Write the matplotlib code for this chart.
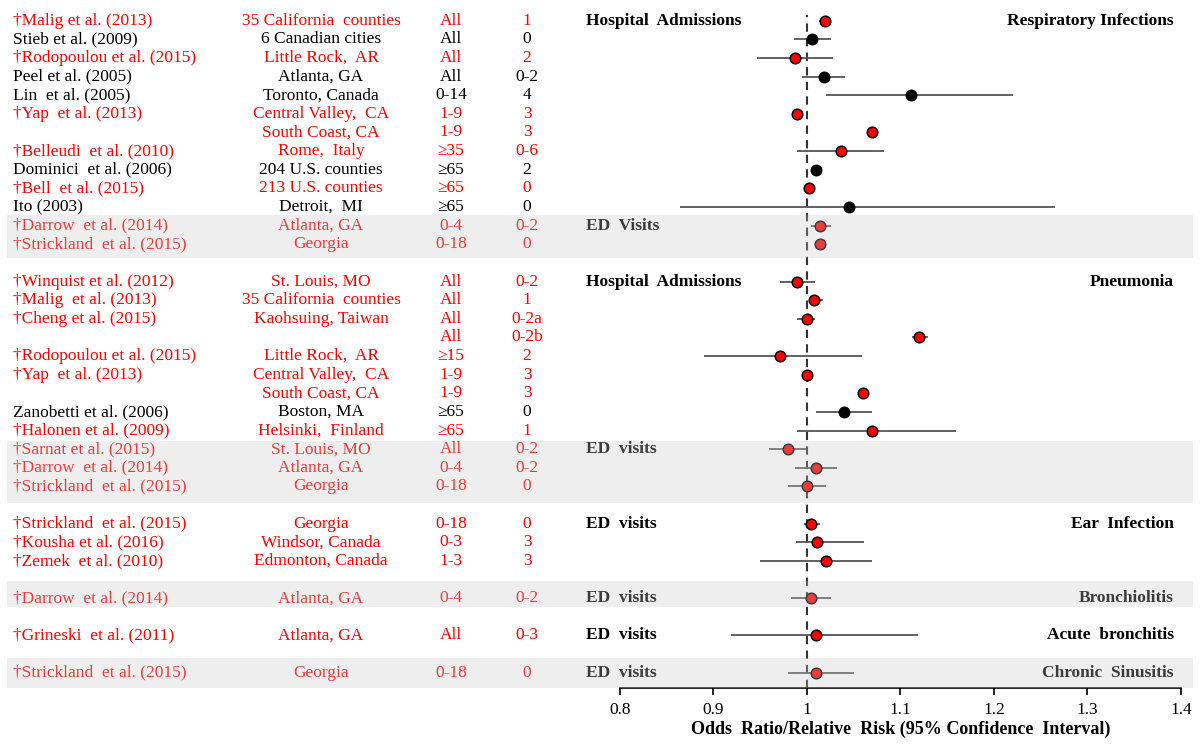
import matplotlib
matplotlib.use("Agg")
import matplotlib.pyplot as plt
from matplotlib.patches import Rectangle
from matplotlib.transforms import blended_transform_factory

# --- Data ---
studies = [
    "†Malig et al. (2013)", "Stieb et al. (2009)", "†Rodopoulou et al. (2015)",
    "Peel et al. (2005)", "Lin  et al. (2005)", "†Yap  et al. (2013)", "",
    "†Belleudi  et al. (2010)", "Dominici  et al. (2006)", "†Bell  et al. (2015)",
    "Ito (2003)", "†Darrow  et al. (2014)", "†Strickland  et al. (2015)",
    "†Winquist et al. (2012)", "†Malig  et al. (2013)", "†Cheng et al. (2015)", "",
    "†Rodopoulou et al. (2015)", "†Yap  et al. (2013)", "", "Zanobetti et al. (2006)",
    "†Halonen et al. (2009)", "†Sarnat et al. (2015)", "†Darrow  et al. (2014)",
    "†Strickland  et al. (2015)",
    "†Strickland  et al. (2015)", "†Kousha et al. (2016)", "†Zemek  et al. (2010)",
    "†Darrow  et al. (2014)",
    "†Grineski  et al. (2011)",
    "†Strickland  et al. (2015)",
]
locations = [
    "35 California  counties", "6 Canadian cities", "Little Rock,  AR", "Atlanta, GA",
    "Toronto, Canada", "Central Valley,  CA", "South Coast, CA", "Rome,  Italy",
    "204 U.S. counties", "213 U.S. counties", "Detroit,  MI", "Atlanta, GA", "Georgia",
    "St. Louis, MO", "35 California  counties", "Kaohsuing, Taiwan", "",
    "Little Rock,  AR", "Central Valley,  CA", "South Coast, CA", "Boston, MA",
    "Helsinki,  Finland", "St. Louis, MO", "Atlanta, GA", "Georgia",
    "Georgia", "Windsor, Canada", "Edmonton, Canada",
    "Atlanta, GA",
    "Atlanta, GA",
    "Georgia",
]
ages = [
    "All", "All", "All", "All", "0-14", "1-9", "1-9", "≥35", "≥65", "≥65", "≥65", "0-4", "0-18",
    "All", "All", "All", "All", "≥15", "1-9", "1-9", "≥65", "≥65", "All", "0-4", "0-18",
    "0-18", "0-3", "1-3",
    "0-4",
    "All",
    "0-18",
]
lags = [
    "1", "0", "2", "0-2", "4", "3", "3", "0-6", "2", "0", "0", "0-2", "0",
    "0-2", "1", "0-2a", "0-2b", "2", "3", "3", "0", "1", "0-2", "0-2", "0",
    "0", "3", "3",
    "0-2",
    "0-3",
    "0",
]
flagged = [
    True, False, True, False, False, True, True, True, False, True, False, True, True,
    True, True, True, True, True, True, True, False, True, True, True, True,
    True, True, True,
    True,
    True,
    True,
]
outcomes = (["Respiratory Infections"] * 13 + ["Pneumonia"] * 12 + ["Ear  Infection"] * 3
            + ["Bronchiolitis"] + ["Acute  bronchitis"] + ["Chronic  Sinusitis"])
settings = (["Hospital  Admissions"] * 11 + ["ED  Visits"] * 2
            + ["Hospital  Admissions"] * 9 + ["ED  visits"] * 3
            + ["ED  visits"] * 3 + ["ED  visits"] + ["ED  visits"] + ["ED  visits"])
shaded = ([False] * 11 + [True] * 2 + [False] * 9 + [True] * 3
          + [False] * 3 + [True] + [False] + [True])

estimate = [
    1.019, 1.006, 0.987, 1.018, 1.111, 0.990, 1.070, 1.037, 1.010, 1.002, 1.045, 1.014, 1.014,
    0.990, 1.008, 1.000, 1.120, 0.971, 1.000, 1.060, 1.040, 1.070, 0.980, 1.010, 1.000,
    1.005, 1.011, 1.020,
    1.005,
    1.010,
    1.010,
]
ci_low = [
    1.013, 0.986, 0.947, 0.995, 1.021, 0.989, 1.069, 0.990, 1.009, 1.001, 0.864, 1.004, 1.011,
    0.971, 1.004, 0.990, 1.112, 0.890, 0.999, 1.059, 1.010, 0.990, 0.960, 0.987, 0.980,
    0.997, 0.988, 0.950,
    0.983,
    0.919,
    0.980,
]
ci_high = [
    1.026, 1.026, 1.028, 1.041, 1.220, 0.991, 1.071, 1.083, 1.011, 1.003, 1.265, 1.026, 1.017,
    1.009, 1.017, 1.009, 1.130, 1.059, 1.001, 1.061, 1.070, 1.160, 0.999, 1.032, 1.020,
    1.014, 1.061, 1.070,
    1.026,
    1.119,
    1.050,
]
xticks = [0.8, 0.9, 1.0, 1.1, 1.2, 1.3, 1.4]
xtick_labels = ["0.8", "0.9", "1", "1.1", "1.2", "1.3", "1.4"]

# --- Row positions: one blank row between outcome sections ---
rows = []
r, prev = 0, None
for sec in outcomes:
    if prev is not None and sec != prev:
        r += 1
    rows.append(r)
    r += 1
    prev = sec

# --- Figure ---
W, H = 1200, 744
plt.rcParams["font.family"] = ["Liberation Serif", "DejaVu Serif"]
fig = plt.figure(figsize=(W / 100, H / 100), dpi=100)
ax = fig.add_axes([619.7 / W, 1 - 688 / H, (1181 - 619.7) / W, 687 / H])
ax.set_xlim(0.8, 1.4)
ax.set_ylim(35.82, -1.057)

RED = "#ff0000"
FS = 12.5
trans = blended_transform_factory(fig.transFigure, ax.transData)

ax.axvline(1.0, ymax=0.98, color="#333333", lw=1.5, ls=(0, (4, 3)), zorder=1)

lo_err = [e - l for e, l in zip(estimate, ci_low)]
hi_err = [h - e for e, h in zip(estimate, ci_high)]
ax.errorbar(estimate, rows, xerr=[lo_err, hi_err], fmt="none", ecolor="#555555",
            elinewidth=1.3, capsize=0, zorder=2)
for x, y, f in zip(estimate, rows, flagged):
    if f:
        ax.plot(x, y, "o", ms=7.6, mfc=RED, mec="black", mew=1.1, zorder=3)
    else:
        ax.plot(x, y, "o", ms=7.6, mfc="black", mec="black", zorder=3)

# table columns
for i, y in enumerate(rows):
    c = RED if flagged[i] else "black"
    ax.text(13 / W, y, studies[i], transform=trans, ha="left", va="center",
            fontsize=FS, color=c, clip_on=False)
    ax.text(321 / W, y, locations[i], transform=trans, ha="center", va="center",
            fontsize=FS, color=c, clip_on=False)
    ax.text(451 / W, y, ages[i], transform=trans, ha="center", va="center",
            fontsize=FS, color=c, clip_on=False)
    ax.text(527 / W, y, lags[i], transform=trans, ha="center", va="center",
            fontsize=FS, color=c, clip_on=False)
    if i == 0 or settings[i] != settings[i - 1] or outcomes[i] != outcomes[i - 1]:
        ax.text(586 / W, y, settings[i], transform=trans, ha="left", va="center",
                fontsize=FS, fontweight="bold", color="black", clip_on=False)
    if i == 0 or outcomes[i] != outcomes[i - 1]:
        ax.text(1174 / W, y, outcomes[i], transform=trans, ha="right", va="center",
                fontsize=FS, fontweight="bold", color="black", clip_on=False)

# gray bands (drawn over the content, semi-transparent)
BAND_PAD = [(0.57, 0.75), (0.46, 0.87), (0.92, 0.45), (0.79, 0.82)]
blocks = []
for i, s in enumerate(shaded):
    if s and (i == 0 or not shaded[i - 1]):
        blocks.append([rows[i], rows[i]])
    elif s:
        blocks[-1][1] = rows[i]
for (a, b), (pt, pb) in zip(blocks, BAND_PAD):
    ax.add_patch(Rectangle((7 / W, a - pt), (1193 - 7) / W, (b + pb) - (a - pt),
                           transform=trans, facecolor="#c8c8c8", edgecolor="none",
                           alpha=0.3, zorder=10, clip_on=False))

# axis styling
for side in ["top", "left", "right"]:
    ax.spines[side].set_visible(False)
ax.spines["bottom"].set_linewidth(1.2)
ax.set_yticks([])
ax.set_xticks(xticks)
ax.set_xticklabels(xtick_labels, fontsize=12.5)
ax.tick_params(axis="x", length=5, width=1.2, pad=5)
ax.set_xlabel("Odds  Ratio/Relative  Risk (95% Confidence  Interval)", fontsize=13,
              fontweight="bold", labelpad=2)
ax.patch.set_visible(False)

fig.savefig("out.png", dpi=100)
